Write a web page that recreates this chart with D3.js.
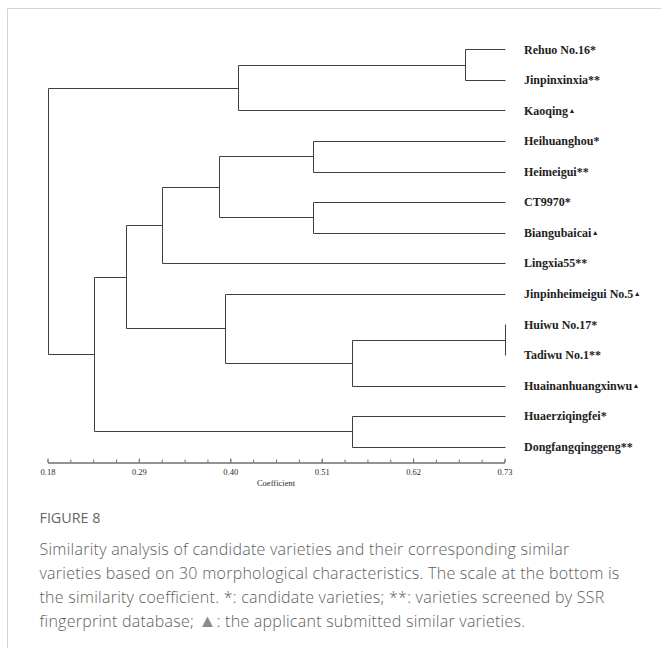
<!DOCTYPE html>
<html>
<head>
<meta charset="utf-8">
<script src="https://cdn.jsdelivr.net/npm/d3@7"></script>
<style>
  html, body { margin: 0; padding: 0; background: #fff; }
  svg { display: block; }
</style>
</head>
<body>
<svg id="chart" width="661" height="648"></svg>
<script>
// Leaves of the dendrogram, top to bottom
const varieties = [
  "Rehuo No.16", "Jinpinxinxia", "Kaoqing", "Heihuanghou", "Heimeigui",
  "CT9970", "Biangubaicai", "Lingxia55", "Jinpinheimeigui No.5", "Huiwu No.17",
  "Tadiwu No.1", "Huainanhuangxinwu", "Huaerziqingfei", "Dongfangqinggeng"
];
// Group marks: * candidate, ** SSR screened, ▲ applicant submitted
const marks = ["*", "**", "▲", "*", "**", "*", "▲", "**", "▲", "*", "**", "▲", "*", "**"];

// Merge steps: [left, right, similarity coefficient]
// "L<i>" refers to a leaf, "M<i>" to an earlier merge
const merges = [
  ["L9", "L10", 0.730],
  ["L0", "L1", 0.683],
  ["L3", "L4", 0.500],
  ["L5", "L6", 0.500],
  ["L12", "L13", 0.547],
  ["M0", "L11", 0.547],
  ["M2", "M3", 0.386],
  ["M1", "L2", 0.409],
  ["M6", "L7", 0.318],
  ["L8", "M5", 0.394],
  ["M8", "M9", 0.274],
  ["M10", "M4", 0.236],
  ["M7", "M11", 0.180]
];

const tickValues = [0.18, 0.29, 0.40, 0.51, 0.62, 0.73];
const axisTitle = "Coefficient";

const figureLabel = "FIGURE 8";
const captionLines = [
  "Similarity analysis of candidate varieties and their corresponding similar",
  "varieties based on 30 morphological characteristics. The scale at the bottom is",
  "the similarity coefficient. *: candidate varieties; **: varieties screened by SSR",
  "fingerprint database; \u25B2: the applicant submitted similar varieties."
];

const svg = d3.select("#chart");

// Card frame
svg.append("path")
  .attr("d", "M7.5,648 V8.5 H661")
  .attr("fill", "none")
  .attr("stroke", "#d4d4d4")
  .attr("stroke-width", 1);

const x = d3.scaleLinear().domain([0.18, 0.73]).range([47.5, 504.5]);
const y = d3.scalePoint().domain(d3.range(varieties.length)).range([49.3, 446.7]);

// Build node table from the merge list
const nodes = {};
varieties.forEach((v, i) => {
  nodes["L" + i] = { x: x(0.73), y: y(i) };
});
merges.forEach(([a, b, c], i) => {
  const na = nodes[a], nb = nodes[b];
  nodes["M" + i] = { x: x(c), y: (na.y + nb.y) / 2, kids: [na, nb] };
});

const tree = svg.append("g")
  .attr("fill", "none")
  .attr("stroke", "#404040")
  .attr("stroke-width", 1);

merges.forEach((m, i) => {
  const n = nodes["M" + i];
  const [a, b] = n.kids;
  const px = Math.round(n.x) + 0.5;
  tree.append("path")
    .attr("d", `M${px},${Math.round(a.y) + 0.5} V${Math.round(b.y) + 0.5}`);
  n.kids.forEach(k => {
    if (Math.abs(k.x - n.x) < 0.5) return;
    tree.append("path")
      .attr("d", `M${Math.round(k.x) + 0.5},${Math.round(k.y) + 0.5} H${px}`);
  });
});

// Leaf labels
const labels = svg.append("g")
  .attr("font-family", "'Liberation Serif', 'Times New Roman', serif")
  .attr("font-weight", "bold")
  .attr("font-size", 12)
  .attr("fill", "#1e1e1e");

varieties.forEach((v, i) => {
  const t = labels.append("text")
    .attr("x", 524)
    .attr("y", y(i))
    .attr("dy", "0.35em");
  t.append("tspan").text(v);
  if (marks[i] === "▲") {
    t.append("tspan")
      .attr("font-size", 7)
      .attr("dx", 0.5)
      .attr("dy", -2)
      .text(marks[i]);
  } else {
    t.append("tspan").text(marks[i]);
  }
});

// Coefficient scale
const axisY = 462.5;
const minorTicks = d3.range(0, 21).map(i => 0.18 + i * 0.0275);

const minorAxis = d3.axisBottom(x)
  .tickValues(minorTicks)
  .tickFormat("")
  .tickSizeInner(-3)
  .tickSizeOuter(0);

const majorAxis = d3.axisBottom(x)
  .tickValues(tickValues)
  .tickFormat(d3.format(".2f"))
  .tickSizeInner(-4)
  .tickSizeOuter(0)
  .tickPadding(6);

const gMinor = svg.append("g").attr("transform", `translate(0,${axisY})`).call(minorAxis);
const gMajor = svg.append("g").attr("transform", `translate(0,${axisY})`).call(majorAxis);

[gMinor, gMajor].forEach(g => {
  g.selectAll("path.domain").attr("stroke", "#707070");
  g.selectAll(".tick line").attr("stroke", "#707070");
});
gMajor.selectAll(".tick text")
  .attr("font-family", "'Liberation Serif', 'Times New Roman', serif")
  .attr("font-size", 8.5)
  .attr("fill", "#2a2a2a");

svg.append("text")
  .attr("x", (x.range()[0] + x.range()[1]) / 2)
  .attr("y", 486)
  .attr("text-anchor", "middle")
  .attr("font-family", "'Liberation Serif', 'Times New Roman', serif")
  .attr("font-size", 8.5)
  .attr("fill", "#2a2a2a")
  .text(axisTitle);

// Caption
svg.append("text")
  .attr("x", 39.5)
  .attr("y", 523)
  .attr("font-family", "'Open Sans', sans-serif")
  .attr("font-size", 14.3)
  .attr("fill", "#666")
  .text(figureLabel);

const cap = svg.append("g")
  .attr("font-family", "'Open Sans', sans-serif")
  .attr("font-weight", 300)
  .attr("font-size", 16)
  .attr("letter-spacing", 0.25)
  .attr("fill", "#5e5e5e");

captionLines.forEach((line, i) => {
  const t = cap.append("text")
    .attr("x", 39.5)
    .attr("y", 555 + i * 24);
  const parts = line.split("\u25B2");
  t.append("tspan").text(parts[0]);
  if (parts.length > 1) {
    t.append("tspan").attr("fill", "#8a8a8a").attr("font-size", 18).text("\u25B2");
    t.append("tspan").text(parts[1]);
  }
});
</script>
</body>
</html>
